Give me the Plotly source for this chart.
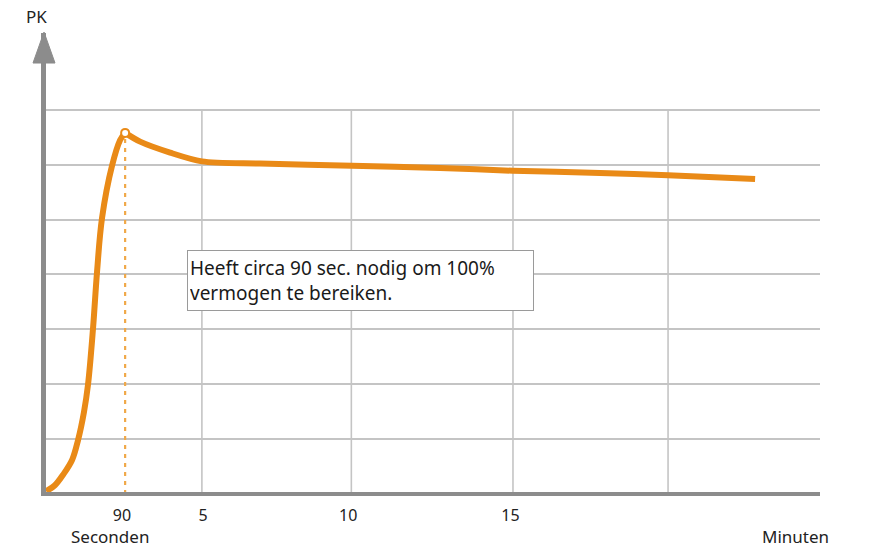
import plotly.graph_objects as go

# Curve data (x in display units ~ minutes, y in grid units)
rise_x = [0.07, 0.35, 0.61, 0.90, 1.09, 1.28, 1.41, 1.57, 1.70, 1.86, 2.18, 2.44, 2.60]
rise_y = [0.05, 0.16, 0.35, 0.62, 0.98, 1.49, 1.99, 3.01, 4.05, 5.03, 5.98, 6.45, 6.58]
fall_x = [2.60, 3.08, 4.04, 5.06, 6.92, 9.87, 12.69, 15.03, 17.82, 20.0, 22.79]
fall_y = [6.58, 6.42, 6.22, 6.06, 6.02, 5.98, 5.94, 5.89, 5.85, 5.81, 5.74]

peak_x = 2.60
peak_y = 6.58

tick_pos = [2.5, 5.1, 9.75, 14.95]
tick_labels = ["90", "5", "10", "15"]
vgrid_pos = [5.06, 9.85, 15.03, 20.0]
hgrid_vals = [1, 2, 3, 4, 5, 6, 7]

ORANGE = "#E98A17"
GRID = "#c4c4c4"
AXIS = "#8c8c8c"
FONT = "Noto Sans"

fig = go.Figure()

# vertical grid lines (only up to top grid line)
for gx in vgrid_pos:
    fig.add_shape(type="line", xref="x", yref="y", x0=gx, x1=gx, y0=0, y1=7,
                  line=dict(color=GRID, width=1.6), layer="below")

# dashed line at 90 s
fig.add_trace(go.Scatter(x=[peak_x, peak_x], y=[0, peak_y], mode="lines",
                         line=dict(color="#F0A848", width=2.2, dash="4px,5px"),
                         hoverinfo="skip", showlegend=False))

fig.add_trace(go.Scatter(x=rise_x, y=rise_y, mode="lines",
                         line=dict(color=ORANGE, width=6, shape="spline", smoothing=1.0),
                         showlegend=False))
fig.add_trace(go.Scatter(x=fall_x, y=fall_y, mode="lines",
                         line=dict(color=ORANGE, width=6, shape="spline", smoothing=0.8),
                         showlegend=False))
fig.add_trace(go.Scatter(x=[peak_x], y=[peak_y], mode="markers",
                         marker=dict(color="white", size=8, line=dict(color=ORANGE, width=2)),
                         showlegend=False))

# arrowhead on y axis
fig.add_shape(type="path", xref="paper", yref="paper", xsizemode="pixel", xanchor=0,
              path="M -13,0.9346 L 9,0.9346 L -2,1.002 Z",
              fillcolor=AXIS, line=dict(color=AXIS, width=1))

fig.add_annotation(x=4.58, y=4.45, xref="x", yref="y", xanchor="left", yanchor="top",
                   text="Heeft circa 90 sec. nodig om 100%<br>vermogen te bereiken.",
                   showarrow=False, align="left", bgcolor="white",
                   bordercolor="#9a9a9a", borderwidth=1, borderpad=2,
                   width=341, height=55,
                   font=dict(family=FONT, size=19, color="#1a1a1a"))

fig.add_annotation(x=0.083, y=-0.098, xref="paper", yref="paper", text="Seconden",
                   xanchor="center", yanchor="middle",
                   showarrow=False, font=dict(family=FONT, size=17, color="#222"))
fig.add_annotation(x=0.968, y=-0.098, xref="paper", yref="paper", text="Minuten",
                   xanchor="center", yanchor="middle",
                   showarrow=False, font=dict(family=FONT, size=17, color="#222"))
fig.add_annotation(x=-0.012, y=1.035, xref="paper", yref="paper", text="PK",
                   xanchor="center", yanchor="middle",
                   showarrow=False, font=dict(family=FONT, size=17, color="#222"))

fig.update_layout(
    width=883, height=547,
    margin=dict(l=46, r=63, t=33, b=55),
    paper_bgcolor="white", plot_bgcolor="white",
    xaxis=dict(range=[0.064, 24.87], tickvals=tick_pos, ticktext=tick_labels,
               showgrid=False, zeroline=False, showline=True, linecolor=AXIS, linewidth=4,
               ticks="outside", ticklen=6, tickcolor="rgba(0,0,0,0)",
               tickfont=dict(family=FONT, size=16, color="#222")),
    yaxis=dict(range=[0.036, 8.40], tickvals=hgrid_vals, showticklabels=False,
               showgrid=True, gridcolor=GRID, gridwidth=1.6, zeroline=False,
               showline=True, linecolor=AXIS, linewidth=5),
)

fig.write_html("out.html", config={"displayModeBar": False},
               post_script="document.body.style.margin='0';document.body.style.overflow='hidden';")
